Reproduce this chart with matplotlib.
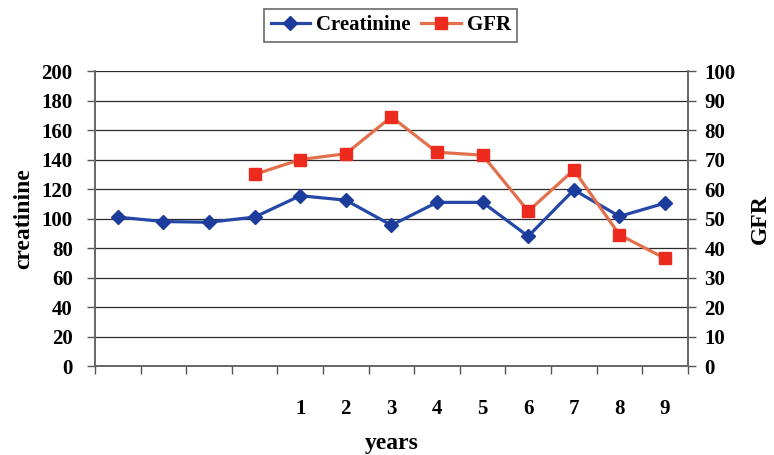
import numpy as np
import matplotlib
matplotlib.use("Agg")
import matplotlib.pyplot as plt

# valori
year_labels = ['', '', '', '', '1', '2', '3', '4', '5', '6', '7', '8', '9']
creatinine = [101, 98, 97.5, 101, 115.5, 112.5, 95.5, 111, 111, 88, 119.5, 101.5, 110.5]
gfr = [np.nan, np.nan, np.nan, 65, 70, 72, 84.5, 72.5, 71.5, 52.5, 66.5, 44.5, 36.5]

plt.rcParams['font.family'] = ['Liberation Serif', 'DejaVu Serif']
plt.rcParams['font.weight'] = 'bold'

fig = plt.figure(figsize=(7.74, 4.55), dpi=100)
ax = fig.add_axes([0.1227, 0.1956, 0.766, 0.648])
ax2 = ax.twinx()

x = np.arange(len(creatinine)) + 0.5

# griglia orizzontale
for v in range(20, 201, 20):
    ax.axhline(v, color='#2b2b2b', linewidth=0.9, zorder=1)

l1, = ax.plot(x, creatinine, color='#2447a8', linewidth=2.3, marker='D', markersize=7.5,
              markerfacecolor='#1c3c9c', markeredgecolor='#1c3c9c', label='Creatinine', zorder=3)
l2, = ax2.plot(x, gfr, color='#e2704c', linewidth=2.3, marker='s', markersize=8.5,
               markerfacecolor='#ec2a1e', markeredgecolor='#ec2a1e', label='GFR', zorder=3)

ax.set_xlim(0, 13)
ax.set_ylim(0, 200)
ax2.set_ylim(0, 100)
ax.set_yticks(range(0, 201, 20))
ax2.set_yticks(range(0, 101, 10))

# tacche ai confini delle categorie, etichette al centro
ax.set_xticks(np.arange(0, 14))
ax.set_xticklabels([])
ax.set_xticks(x, minor=True)
ax.set_xticklabels(year_labels, minor=True)
ax.tick_params(axis='x', which='major', length=6, color='#555555', width=1)
ax.tick_params(axis='x', which='minor', length=0, pad=24, labelsize=15)
ax.tick_params(axis='y', length=6, color='#555555', width=1, labelsize=15, pad=10)
ax2.tick_params(axis='y', length=6, color='#555555', width=1, labelsize=15, pad=6)

for a in (ax, ax2):
    a.spines['top'].set_visible(False)
    for s in ('left', 'right', 'bottom'):
        a.spines[s].set_color('#666666')
        a.spines[s].set_linewidth(1.2)

ax.set_ylabel('creatinine', fontsize=17, fontweight='bold', labelpad=5)
ax2.set_ylabel('GFR', fontsize=17, fontweight='bold', labelpad=10)
ax.set_xlabel('years', fontsize=17, fontweight='bold', labelpad=10)

leg = fig.legend(handles=[l1, l2], loc='center', bbox_to_anchor=(0.505, 0.944), ncol=2,
                 frameon=True, fancybox=False, fontsize=15, handlelength=1.9,
                 handletextpad=0.3, columnspacing=0.5, borderpad=0.3)
leg.get_frame().set_edgecolor('#444444')
leg.get_frame().set_linewidth(1.2)

plt.savefig('out.png', dpi=100)
